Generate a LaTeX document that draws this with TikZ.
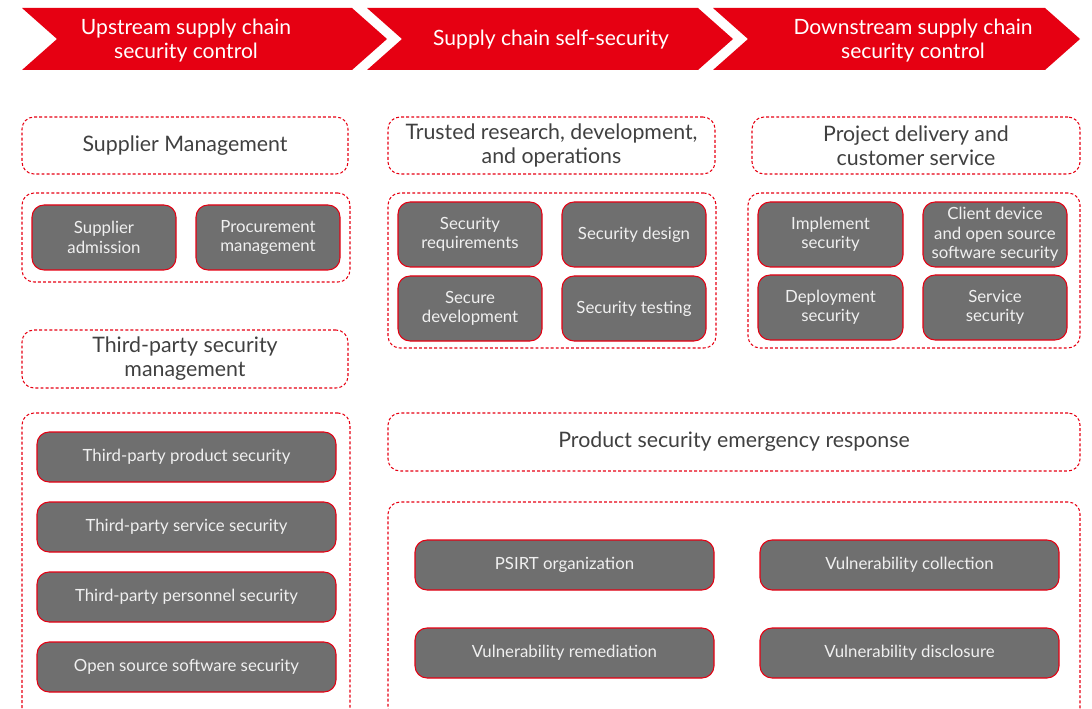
\documentclass[tikz,border=0pt]{standalone}
\usepackage{fontspec}
\setmainfont{Lato}
\definecolor{hred}{HTML}{E60012}
\definecolor{hgray}{HTML}{6F6F6F}
\definecolor{htext}{HTML}{404040}
\newcommand\bx[7]{\node[#6, minimum width={(#4-#2)*0.75pt}, minimum height={(#5-#3)*0.75pt}] (#1) at ({(#2+#4)/2},{(#3+#5)/2}) {#7};}
\tikzset{
  dbox/.style={draw=hred, dash pattern=on 2.2pt off 1.6pt, line width=0.8pt, rounded corners=9pt, inner sep=0pt, align=center, text=htext, font=\fontsize{16}{18}\selectfont},
  gbox/.style={draw=hred, fill=hgray, line width=0.8pt, rounded corners=9pt, inner sep=0pt, align=center, text=white!94!black, font=\fontsize{12.6}{14.5}\selectfont},
  grp/.style={draw=hred, dash pattern=on 2.2pt off 1.6pt, line width=0.8pt, rounded corners=9pt},
  chev/.style={fill=hred, draw=none},
  chevtext/.style={text=white, align=center, font=\fontsize{15.8}{18}\selectfont},
}
\begin{document}
\begin{tikzpicture}[x=0.75pt,y=-0.75pt]
\useasboundingbox (0,0) rectangle (1092,709);
% chevrons
\path[chev] (22,8) -- (352,8) -- (387,39) -- (352,70) -- (22,70) -- (57,39) -- cycle;
\path[chev] (367,8) -- (698,8) -- (733,39) -- (698,70) -- (367,70) -- (402,39) -- cycle;
\path[chev] (713,8) -- (1045,8) -- (1080,39) -- (1045,70) -- (713,70) -- (748,39) -- cycle;
\node[chevtext] (c1) at (186,41) {Upstream supply chain\\security control};
\node[chevtext] (c2) at (551,40) {Supply chain self-security};
\node[chevtext] (c3) at (913,41) {Downstream supply chain\\security control};
% left column
\bx{sm}{22}{117}{348}{174}{dbox}{Supplier Management}
\bx{g1}{22}{193}{350}{282}{grp}{}
\bx{sa}{32}{205}{176}{270}{gbox}{Supplier\\admission}
\bx{pm}{196}{205}{340}{270}{gbox}{Procurement\\management}
\bx{tp}{22}{330}{348}{388}{dbox}{Third-party security\\management}
\bx{g2}{22}{413}{350}{720}{grp}{}
\bx{tps}{37}{432}{336}{482}{gbox}{Third-party product security}
\bx{tss}{37}{502}{336}{552}{gbox}{Third-party service security}
\bx{tpe}{37}{572}{336}{622}{gbox}{Third-party personnel security}
\bx{oss}{37}{642}{336}{692}{gbox}{Open source software security}
% middle column
\bx{tr}{388}{117}{715}{174}{dbox}{Trusted research, development,\\and operations}
\bx{g3}{388}{193}{716}{348}{grp}{}
\bx{sr}{398}{202}{542}{267}{gbox}{Security\\requirements}
\bx{sd}{562}{202}{706}{267}{gbox}{Security design}
\bx{sdev}{398}{276}{542}{341}{gbox}{Secure\\development}
\bx{st}{562}{276}{706}{341}{gbox}{Security testing}
\bx{pser}{388}{413}{1080}{471}{dbox}{Product security emergency response}
\bx{g4}{388}{502}{1080}{720}{grp}{}
\bx{psirt}{415}{540}{714}{590}{gbox}{PSIRT organization}
\bx{vc}{760}{540}{1059}{590}{gbox}{Vulnerability collection}
\bx{vr}{415}{628}{714}{678}{gbox}{Vulnerability remediation}
\bx{vd}{760}{628}{1059}{678}{gbox}{Vulnerability disclosure}
% right column
\bx{pd}{752}{117}{1080}{174}{dbox}{Project delivery and\\customer service}
\bx{g5}{748}{193}{1080}{348}{grp}{}
\bx{is}{758}{202}{903}{267}{gbox}{Implement\\security}
\bx{cd}{923}{202}{1067}{267}{gbox}{Client device\\and open source\\software security}
\bx{ds}{758}{275}{903}{340}{gbox}{Deployment\\security}
\bx{ss}{923}{275}{1067}{340}{gbox}{Service\\security}
\end{tikzpicture}
\end{document}
